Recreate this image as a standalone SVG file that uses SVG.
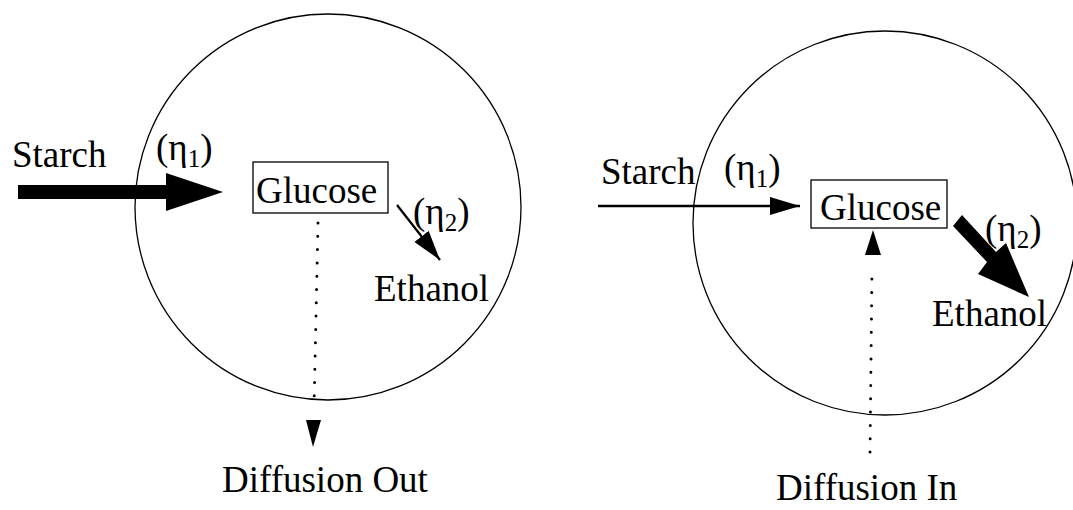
<svg xmlns="http://www.w3.org/2000/svg" width="1073" height="510" viewBox="0 0 1073 510">
  <style>
    .cell { fill: none; stroke: #000; stroke-width: 1.3; }
    .box { fill: #fff; stroke: #000; stroke-width: 1.3; }
    .lbl { font-family: "Liberation Serif", "Times New Roman", serif; font-size: 37px; fill: #000; }
    .sub { font-size: 25px; }
    .thin { stroke: #000; stroke-width: 2.3; fill: none; }
    .dots { stroke: #000; stroke-width: 3; stroke-linecap: round; stroke-dasharray: 0 13.3; fill: none; }
    .solid { fill: #000; stroke: none; }
  </style>
  <defs>
    <marker id="head" markerUnits="userSpaceOnUse" markerWidth="32" markerHeight="20" refX="30" refY="9" orient="auto">
      <path d="M0,0 L30,9 L0,18 z" fill="#000"/>
    </marker>
  </defs>
  <rect width="1073" height="510" fill="#fff"/>

  <!-- cell membranes -->
  <g id="cell-left">
    <circle class="cell" cx="328" cy="207" r="193"/>
  </g>
  <g id="cell-right">
    <circle class="cell" cx="885" cy="223" r="192"/>
  </g>

  <!-- fluxes -->
  <g id="connectors">
    <!-- left cell: strong starch uptake -->
    <polygon class="solid" points="18,185 166,185 166,173 223,192 166,211 166,199 18,199"/>
    <!-- left cell: weak fermentation -->
    <line class="thin" x1="397" y1="205" x2="440" y2="260" marker-end="url(#head)"/>
    <!-- left cell: glucose leaking out -->
    <line class="dots" x1="318" y1="223" x2="314" y2="408"/>
    <polygon class="solid" points="306,420 321,420 313,447"/>
    <!-- right cell: weak starch uptake -->
    <line class="thin" x1="598" y1="206" x2="800" y2="206" marker-end="url(#head)"/>
    <!-- right cell: strong fermentation -->
    <polygon class="solid" points="953,226 962,215 996,252 1006,243 1029,297 978,274 987,262"/>
    <!-- right cell: glucose coming in -->
    <line class="dots" x1="870" y1="452" x2="872" y2="268"/>
    <polygon class="solid" points="865,255 881,255 873,230"/>
  </g>

  <g id="glucose-left">
    <rect class="box" x="253" y="162" width="135" height="51"/>
    <text class="lbl" font-family="Liberation Serif, serif" x="256" y="203">Glucose</text>
  </g>
  <g id="glucose-right">
    <rect class="box" x="811" y="180" width="136" height="48"/>
    <text class="lbl" font-family="Liberation Serif, serif" x="820" y="220">Glucose</text>
  </g>

  <g id="labels-left">
    <text class="lbl" x="12" y="167">Starch</text>
    <text class="lbl" x="156" y="160">(η<tspan class="sub" dy="7">1</tspan><tspan dy="-7">)</tspan></text>
    <text class="lbl" x="413" y="224">(η<tspan class="sub" dy="7">2</tspan><tspan dy="-7">)</tspan></text>
    <text class="lbl" x="374" y="301">Ethanol</text>
    <text class="lbl" x="222" y="492">Diffusion Out</text>
  </g>
  <g id="labels-right">
    <text class="lbl" x="601" y="184">Starch</text>
    <text class="lbl" x="724" y="180">(η<tspan class="sub" dy="7">1</tspan><tspan dy="-7">)</tspan></text>
    <text class="lbl" x="985" y="241">(η<tspan class="sub" dy="7">2</tspan><tspan dy="-7">)</tspan></text>
    <text class="lbl" x="932" y="326">Ethanol</text>
    <text class="lbl" x="776" y="500">Diffusion In</text>
  </g>
</svg>
